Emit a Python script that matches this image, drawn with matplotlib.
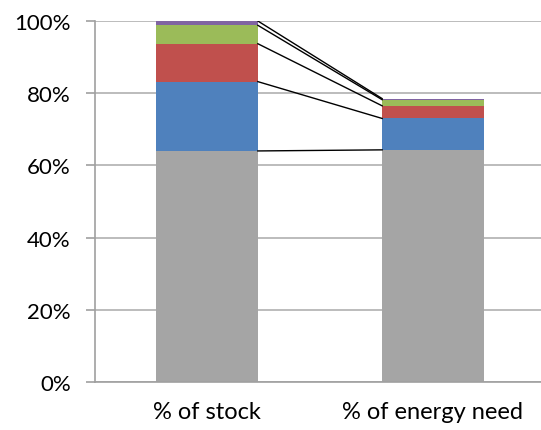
import numpy as np
from matplotlib import pyplot as plt

categories = ['% of stock', '% of energy need']
gray = [64.0, 64.3]
blue = [19.2, 8.7]
red = [10.5, 3.5]
green = [5.1, 1.7]
purple = [1.2, 0.3]

series = [gray, blue, red, green, purple]
colors = ['#A5A5A5', '#4F81BD', '#C0504D', '#9BBB59', '#8064A2']

plt.rcParams['font.family'] = ['Lato', 'DejaVu Sans']

fig = plt.figure(figsize=(5.41, 4.31), dpi=100)
ax = fig.add_axes([0.1756, 0.1114, 0.8244, 0.8376])

x = np.arange(len(categories))
width = 0.45
bottom = np.zeros(len(categories))
for vals, c in zip(series, colors):
    ax.bar(x, vals, width, bottom=bottom, color=c, zorder=2)
    bottom = bottom + np.array(vals)
    # series line joining the segment tops
    ax.plot([x[0] + width / 2, x[1] - width / 2], bottom, color='black',
            linewidth=1, zorder=3)

ax.set_xlim(-0.4956, 1.478)
ax.set_ylim(0, 100)
ax.set_yticks(np.arange(0, 101, 20))
ax.set_yticklabels(['%d%%' % v for v in range(0, 101, 20)])
ax.set_xticks(x)
ax.set_xticklabels(categories)
ax.yaxis.grid(True, color='#B0B0B0', linewidth=1.2, zorder=0)
ax.set_axisbelow(True)

for s in ['top', 'right']:
    ax.spines[s].set_visible(False)
for s in ['left', 'bottom']:
    ax.spines[s].set_color('#A0A0A0')
    ax.spines[s].set_linewidth(1.2)

ax.tick_params(axis='y', length=6.5, width=1.2, color='#A0A0A0', pad=11, labelsize=16)
ax.tick_params(axis='x', length=0, pad=14, labelsize=17)

fig.savefig('out.png', dpi=100)
